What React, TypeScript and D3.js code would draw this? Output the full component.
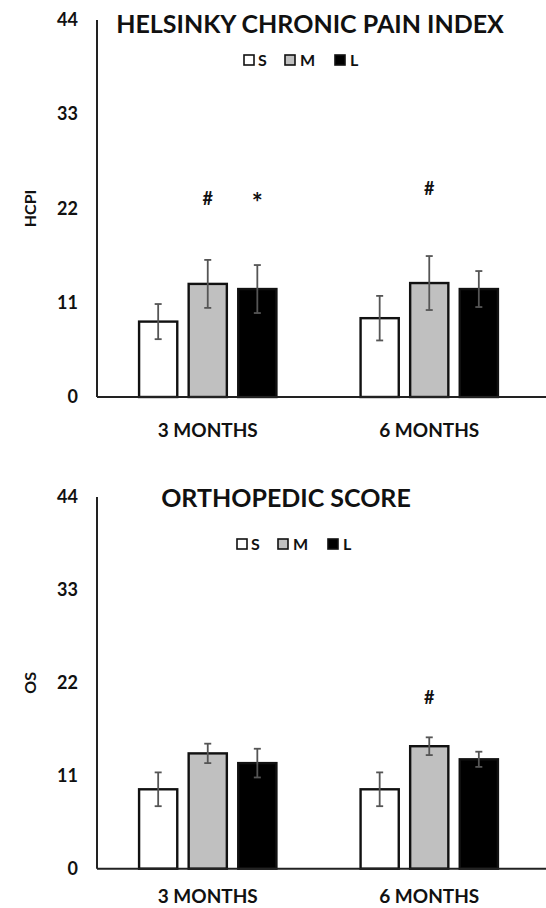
import * as d3 from 'd3';

const groups = ["3 MONTHS", "6 MONTHS"];
const series = ["S", "M", "L"];
const seriesFill = ["#ffffff", "#c0c0c0", "#000000"];
const yTicks = [0, 11, 22, 33, 44];

// HCPI values, one array per series (3 months, 6 months)
const hcpiS = [8.8, 9.2];
const hcpiM = [13.2, 13.3];
const hcpiL = [12.6, 12.6];
const hcpiErrS = [2.05, 2.6];
const hcpiErrM = [2.8, 3.15];
const hcpiErrL = [2.8, 2.1];
const hcpiMarks = [
  { group: 0, series: 1, mark: "#", level: 23.2 },
  { group: 0, series: 2, mark: "*", level: 22.4 },
  { group: 1, series: 1, mark: "#", level: 24.4 },
];

// Orthopedic score values
const osS = [9.4, 9.4];
const osM = [13.65, 14.5];
const osL = [12.5, 12.95];
const osErrS = [2.0, 2.0];
const osErrM = [1.15, 1.05];
const osErrL = [1.7, 0.9];
const osMarks = [{ group: 1, series: 1, mark: "#", level: 20.3 }];

const FONT = "Lato, 'Open Sans', sans-serif";

interface PanelProps {
  title: string;
  yLabel: string;
  means: number[][];
  errs: number[][];
  marks: { group: number; series: number; mark: string; level: number }[];
  top: number;
  bottom: number;
  titleX: number;
  titleY: number;
  legendX: number;
  legendY: number;
  labelOffset: number;
}

const Panel = ({ title, yLabel, means, errs, marks, top, bottom, titleX, titleY, legendX, legendY, labelOffset }: PanelProps) => {
  const left = 97;
  const right = 540;
  const y = d3.scaleLinear().domain([0, 44]).range([bottom, top]);
  const x0 = d3.scaleBand().domain(groups).range([left, right]).paddingInner(0.38).paddingOuter(0.19);
  const x1 = d3.scaleBand().domain(series).range([0, x0.bandwidth()]).paddingInner(0.23);

  const bars = groups.flatMap((g, gi) =>
    series.map((s, si) => ({ g, s, si, v: means[si][gi], e: errs[si][gi] }))
  );

  const legendItems = [
    { dx: 0, tx: 14 },
    { dx: 41, tx: 56 },
    { dx: 91, tx: 106 },
  ];

  return (
    <g>
      <text x={titleX} y={titleY} textAnchor="middle" fontFamily={FONT} fontWeight={700} fontSize={25} fill="#111">
        {title}
      </text>
      {series.map((s, i) => (
        <g key={s}>
          <rect x={legendX + legendItems[i].dx} y={legendY - 11} width={10} height={10}
            fill={seriesFill[i]} stroke="#111" strokeWidth={1.6} />
          <text x={legendX + legendItems[i].tx} y={legendY} fontFamily={FONT} fontWeight={700} fontSize={16} fill="#111">{s}</text>
        </g>
      ))}

      {yTicks.map(t => (
        <text key={t} x={78} y={y(t) + 6} textAnchor="end" fontFamily={FONT} fontWeight={700} fontSize={18} fill="#111">{t}</text>
      ))}
      <text transform={`translate(36,${(top + bottom) / 2}) rotate(-90)`} textAnchor="middle"
        fontFamily={FONT} fontWeight={700} fontSize={16} fill="#111">{yLabel}</text>

      {bars.map(b => {
        const bx = (x0(b.g) || 0) + (x1(b.s) || 0);
        const cx = bx + x1.bandwidth() / 2;
        return (
          <g key={b.g + b.s}>
            <rect x={bx} y={y(b.v)} width={x1.bandwidth()} height={bottom - y(b.v)}
              fill={seriesFill[b.si]} stroke="#111" strokeWidth={2.4} />
            <line x1={cx} x2={cx} y1={y(b.v + b.e)} y2={y(b.v - b.e)} stroke="#555" strokeWidth={1.8} />
            <line x1={cx - 3.5} x2={cx + 3.5} y1={y(b.v + b.e)} y2={y(b.v + b.e)} stroke="#555" strokeWidth={1.8} />
            <line x1={cx - 3.5} x2={cx + 3.5} y1={y(b.v - b.e)} y2={y(b.v - b.e)} stroke="#555" strokeWidth={1.8} />
          </g>
        );
      })}

      {marks.map((m, i) => {
        const cx = (x0(groups[m.group]) || 0) + (x1(series[m.series]) || 0) + x1.bandwidth() / 2;
        return (
          <text key={i} x={cx} y={y(m.level) + 7} textAnchor="middle" fontFamily={FONT} fontWeight={700}
            fontSize={m.mark === "*" ? 26 : 18} fill="#111">{m.mark}</text>
        );
      })}

      <line x1={left} x2={left} y1={top} y2={bottom} stroke="#222" strokeWidth={2} />
      <line x1={left} x2={right + 6} y1={bottom} y2={bottom} stroke="#222" strokeWidth={2} />

      {groups.map(g => (
        <text key={g} x={(x0(g) || 0) + x0.bandwidth() / 2} y={bottom + labelOffset} textAnchor="middle"
          fontFamily={FONT} fontWeight={700} fontSize={19} fill="#111">{g}</text>
      ))}
    </g>
  );
};

export default function App() {
  return (
    <div style={{ position: "absolute", left: 0, top: 0 }}>
      <svg width={546} height={908} style={{ display: "block", background: "#fff" }}>
        <Panel title="HELSINKY CHRONIC PAIN INDEX" yLabel="HCPI"
          means={[hcpiS, hcpiM, hcpiL]} errs={[hcpiErrS, hcpiErrM, hcpiErrL]} marks={hcpiMarks}
          top={20} bottom={397} titleX={310} titleY={33} legendX={244} legendY={66} labelOffset={40} />
        <Panel title="ORTHOPEDIC SCORE" yLabel="OS"
          means={[osS, osM, osL]} errs={[osErrS, osErrM, osErrL]} marks={osMarks}
          top={497} bottom={868.7} titleX={286} titleY={507} legendX={237} legendY={550} labelOffset={34} />
      </svg>
    </div>
  );
}
